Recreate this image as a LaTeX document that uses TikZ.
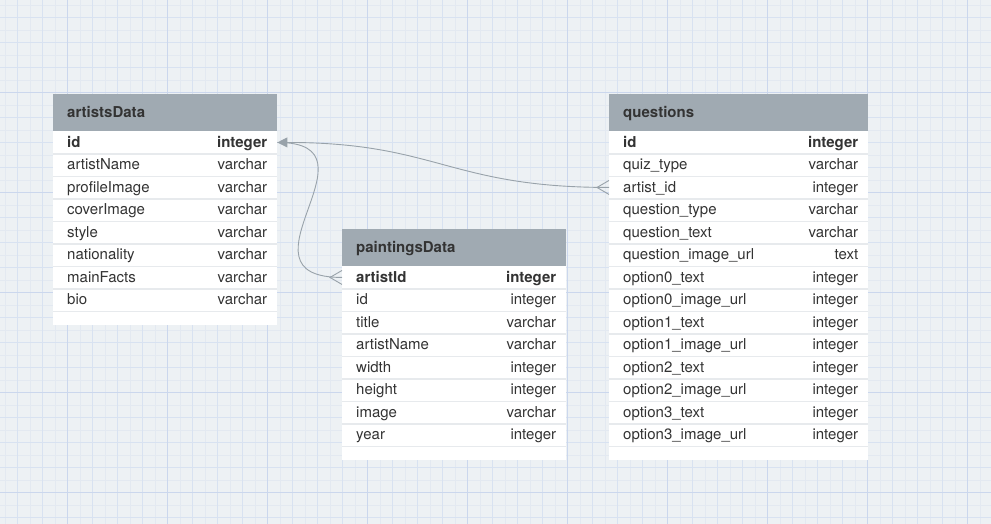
\documentclass[tikz,border=0pt]{standalone}
\usepackage{fontspec}
\setmainfont{TeX Gyre Heros}
\usetikzlibrary{positioning,arrows.meta}

\definecolor{bgblue}{RGB}{237,241,244}
\definecolor{gridfaint}{RGB}{227,233,241}
\definecolor{gridminor}{RGB}{216,226,241}
\definecolor{gridmajor}{RGB}{203,215,237}
\definecolor{headgray}{RGB}{160,170,178}
\definecolor{sepgray}{RGB}{231,234,237}
\definecolor{textdark}{RGB}{51,51,51}
\definecolor{conngray}{RGB}{152,162,170}

\tikzset{
  tablebox/.style={fill=white, anchor=north west, inner sep=0pt},
  headbox/.style={fill=headgray, anchor=north west, inner sep=0pt, minimum height=37pt},
  rowbox/.style={anchor=north west, inner sep=0pt, minimum height=22.5pt},
  fieldtext/.style={inner sep=0pt, text=textdark, text height=10.5pt, text depth=0.5pt,
    font=\fontsize{15}{18}\selectfont},
  headtext/.style={fieldtext, font=\fontsize{15}{18}\selectfont\bfseries},
  sepline/.style={draw=sepgray, line width=1.5pt},
  conn/.style={draw=conngray, line width=0.9pt},
  crowfoot/.style={draw=conngray, line width=0.9pt, line join=miter}
}

\begin{document}
\begin{tikzpicture}[x=1pt, y=-1pt]
  \useasboundingbox (0,0) rectangle (991,524);

  % Fundo quadriculado
  \fill[bgblue] (0,0) rectangle (991,524);
  \foreach \g in {5,30,...,991} \draw[gridfaint, line width=0.7pt] (\g,0) -- (\g,524);
  \foreach \g in {5,30,...,524} \draw[gridfaint, line width=0.7pt] (0,\g) -- (991,\g);
  \foreach \g in {17.5,42.5,...,991} \draw[gridminor, line width=0.7pt] (\g,0) -- (\g,524);
  \foreach \g in {17.5,42.5,...,524} \draw[gridminor, line width=0.7pt] (0,\g) -- (991,\g);
  \foreach \g in {67.5,167.5,...,991} \draw[gridmajor, line width=0.8pt] (\g,0) -- (\g,524);
  \foreach \g in {92.5,192.5,...,524} \draw[gridmajor, line width=0.8pt] (0,\g) -- (991,\g);

  % Tabela artistsData
  \node[tablebox, minimum width=224pt, minimum height=231pt] (artistsData) at (53,94) {};
  \node[headbox, minimum width=224pt] (art-head) at (53,94) {};
  \node[headtext, anchor=west, right=14pt of art-head.west] {artistsData};
  \foreach [count=\i] \f/\t in {id/integer, artistName/varchar, profileImage/varchar,
      coverImage/varchar, style/varchar, nationality/varchar, mainFacts/varchar, bio/varchar} {
    \node[rowbox, minimum width=224pt] (art-\i) at (53,{131+22.5*(\i-1)}) {};
    \draw[sepline] (art-\i.south west) -- (art-\i.south east);
    \node[fieldtext, right=14pt of art-\i.west] {\ifnum\i=1 \bfseries\fi\f};
    \node[fieldtext, left=10pt of art-\i.east] {\ifnum\i=1 \bfseries\fi\t};
  }

  % Tabela paintingsData
  \node[tablebox, minimum width=224pt, minimum height=231pt] (paintingsData) at (342,229) {};
  \node[headbox, minimum width=224pt] (pnt-head) at (342,229) {};
  \node[headtext, anchor=west, right=14pt of pnt-head.west] {paintingsData};
  \foreach [count=\i] \f/\t in {artistId/integer, id/integer, title/varchar, artistName/varchar,
      width/integer, height/integer, image/varchar, year/integer} {
    \node[rowbox, minimum width=224pt] (pnt-\i) at (342,{266+22.5*(\i-1)}) {};
    \draw[sepline] (pnt-\i.south west) -- (pnt-\i.south east);
    \node[fieldtext, right=14pt of pnt-\i.west] {\ifnum\i=1 \bfseries\fi\f};
    \node[fieldtext, left=10pt of pnt-\i.east] {\ifnum\i=1 \bfseries\fi\t};
  }

  % Tabela questions
  \node[tablebox, minimum width=259pt, minimum height=366pt] (questions) at (609,94) {};
  \node[headbox, minimum width=259pt] (q-head) at (609,94) {};
  \node[headtext, anchor=west, right=14pt of q-head.west] {questions};
  \foreach [count=\i] \f/\t in {id/integer, quiz\_type/varchar, artist\_id/integer,
      question\_type/varchar, question\_text/varchar, question\_image\_url/text,
      option0\_text/integer, option0\_image\_url/integer, option1\_text/integer,
      option1\_image\_url/integer, option2\_text/integer, option2\_image\_url/integer,
      option3\_text/integer, option3\_image\_url/integer} {
    \node[rowbox, minimum width=259pt] (q-\i) at (609,{131+22.5*(\i-1)}) {};
    \draw[sepline] (q-\i.south west) -- (q-\i.south east);
    \node[fieldtext, right=14pt of q-\i.west] {\ifnum\i=1 \bfseries\fi\f};
    \node[fieldtext, left=10pt of q-\i.east] {\ifnum\i=1 \bfseries\fi\t};
  }

  % Ligacoes
  \draw[conn] (pnt-1.west) .. controls +(-115,0) and +(110,0) .. (art-1.east);
  \draw[conn, -{Triangle[length=10pt, width=10pt]}] (q-3.west)
    .. controls +(-160,0) and +(160,0) .. (art-1.east);
  \draw[crowfoot] ([yshift=7pt]q-3.west) -- ([xshift=-12pt]q-3.west) -- ([yshift=-7pt]q-3.west);
  \draw[crowfoot] ([yshift=7pt]pnt-1.west) -- ([xshift=-12pt]pnt-1.west) -- ([yshift=-7pt]pnt-1.west);
\end{tikzpicture}
\end{document}
